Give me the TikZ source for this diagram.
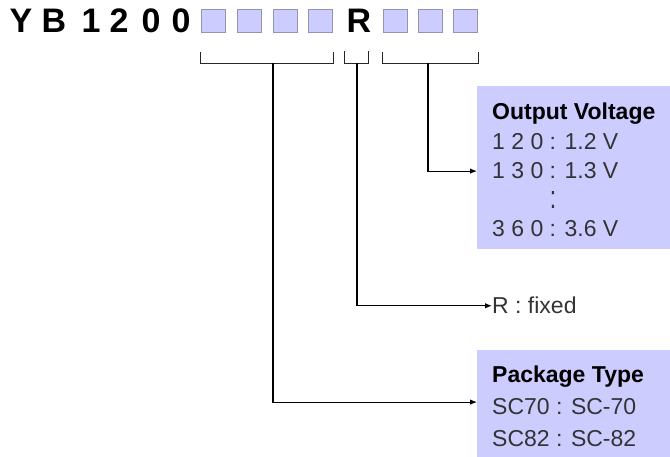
\documentclass[tikz,border=0pt]{standalone}
\usepackage{fontspec}
\setmainfont{Liberation Sans}
\usetikzlibrary{arrows.meta}
\definecolor{boxblue}{HTML}{CCCCFF}
\definecolor{sqedge}{HTML}{9494B0}
\begin{document}
\begin{tikzpicture}[x=1pt,y=-1pt,
    titlechar/.style={inner sep=0pt,anchor=base,font=\fontsize{34}{40}\selectfont\bfseries},
    codebox/.style={draw=sqedge,fill=boxblue,line width=1.4pt,minimum width=24pt,minimum height=23pt,inner sep=0pt},
    infobox/.style={fill=boxblue,inner sep=0pt,anchor=north west},
    headtext/.style={inner sep=0pt,anchor=base west,font=\fontsize{23}{28}\selectfont\bfseries},
    bodytext/.style={inner sep=0pt,anchor=base west,text=black!80,font=\fontsize{23}{28}\selectfont},
    bracket/.style={draw=black!85,line width=1.1pt},
    conn/.style={draw=black,line width=1.1pt,-{Latex[length=7pt,width=5.5pt]}}]
    \useasboundingbox (0,0) rectangle (670,457);

    % --- Part number ---
    \foreach \ch/\x [count=\i] in {Y/21,B/54,1/91,2/119,0/151,0/181}{
        \node[titlechar] (t\i) at (\x,33) {\ch};
    }
    \foreach \x [count=\i] in {213.5,249.5,285.5,320.5}{
        \node[codebox] (sq\i) at (\x,21) {};
    }
    \node[titlechar] (rch) at (359,33) {R};
    \foreach \x [count=\i from 5] in {395.5,430.5,465.5}{
        \node[codebox] (sq\i) at (\x,21) {};
    }

    % --- Brackets ---
    \draw[bracket] ([yshift=-18.5pt]sq1.south west) -- ++(0,12) -| ([yshift=-18.5pt]sq4.south east);
    \draw[bracket] ([xshift=-2pt,yshift=-18pt]rch.south west) -- ++(0,12) -| ([xshift=-3pt,yshift=-18pt]rch.south east);
    \draw[bracket] ([yshift=-18.5pt]sq5.south west) -- ++(0,12) -| ([yshift=-18.5pt]sq7.south east);
    \coordinate (pkgtap) at (273,63);
    \coordinate (rtap) at (357,63);
    \coordinate (volttap) at (428,63);

    % --- Output Voltage ---
    \node[infobox,minimum width=193pt,minimum height=163pt] (voltbox) at (477,86) {};
    \node[headtext] (volthead) at (492,120) {Output Voltage};
    \node[bodytext] (v120) at (492,150) {1 2 0 : 1.2 V};
    \node[bodytext] (v130) at (492,179) {1 3 0 : 1.3 V};
    \node[bodytext,anchor=base] (vdots) at (553,209) {\scalebox{1}[1.4]{:}};
    \node[bodytext] (v360) at (492,237) {3 6 0 : 3.6 V};

    % --- Fixed ---
    \node[bodytext] (rfixed) at (492,314) {R : fixed};

    % --- Package Type ---
    \node[infobox,minimum width=193pt,minimum height=107pt] (pkgbox) at (477,350) {};
    \node[headtext] (pkghead) at (492,382) {Package Type};
    \node[bodytext] (sc70) at (492,414) {SC70 : SC-70};
    \node[bodytext] (sc82) at (492,446) {SC82 : SC-82};

    % --- Connectors ---
    \draw[conn] (volttap) |- (voltbox.west |- v130.west);
    \draw[conn] (rtap) |- (rfixed.west);
    \draw[conn] (pkgtap) |- ([yshift=4pt]pkgbox.west |- sc70.west);
\end{tikzpicture}
\end{document}
